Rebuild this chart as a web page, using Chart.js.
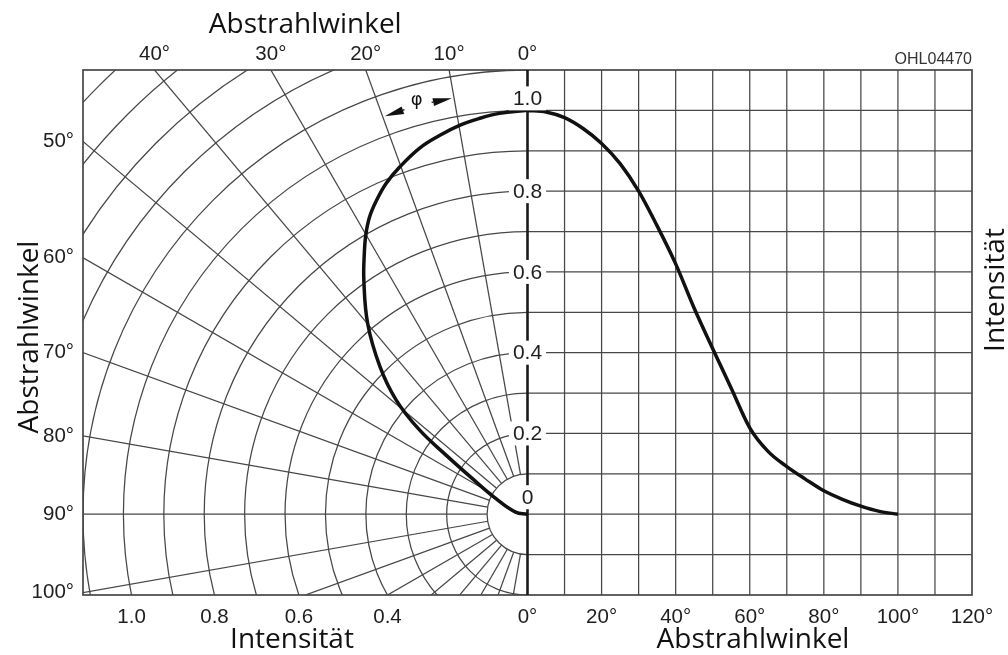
<!DOCTYPE html>
<html>
<head>
<meta charset="utf-8">
<title>Abstrahlcharakteristik</title>
<script src="https://cdn.jsdelivr.net/npm/chart.js@4.4.1/dist/chart.umd.min.js"></script>
<style>
  html, body { margin: 0; padding: 0; background: #fff; }
  #wrap { position: relative; width: 1008px; height: 655px; }
</style>
</head>
<body>
<div id="wrap"><canvas id="c"></canvas></div>
<script>
// Relative intensity over emission angle (Cartesian half, degrees)
const cartAngles    = [0, 5, 10, 15, 20, 25, 30, 35, 40, 45, 50, 55, 60, 65, 70, 75, 80, 85, 90, 95, 100];
const cartIntensity = [1.0, 0.996, 0.982, 0.955, 0.918, 0.868, 0.80, 0.714, 0.62, 0.51, 0.41, 0.312, 0.214, 0.155, 0.118, 0.087, 0.058, 0.037, 0.02, 0.007, 0.0];

// Same characteristic in the polar half (angle from the optical axis, relative intensity)
const polarAngles    = [0, 4, 7, 10, 13, 16.4, 20.2, 23.1, 25.7, 28, 30, 32, 35, 40, 45, 49, 52, 54, 57, 64, 80, 90];
const polarIntensity = [1.0, 0.995, 0.987, 0.977, 0.963, 0.945, 0.916, 0.891, 0.862, 0.833, 0.80, 0.762, 0.706, 0.615, 0.516, 0.43, 0.34, 0.25, 0.165, 0.085, 0.03, 0.0];

// Tick labels
const topAngleTicks        = [0, 10, 20, 30, 40];
const leftAngleTicks       = [50, 60, 70, 80, 90, 100];
const bottomIntensityTicks = [1.0, 0.8, 0.6, 0.4];
const bottomAngleTicks     = [0, 20, 40, 60, 80, 100, 120];
const axisIntensityLabels  = [1.0, 0.8, 0.6, 0.4, 0.2, 0];

// Axis ranges: the polar half uses intensity units, the Cartesian half degrees;
// both span the same pixels so one intensity unit equals 120/1.1 degrees.
const X_MAX = 1.1, Y_MIN = -0.2, Y_MAX = 1.1, ANG_MAX = 120;

const RAD = Math.PI / 180;
const tickFont  = { family: '"Liberation Sans", Arial, sans-serif', size: 20.5 };
const tickColor = '#1e1e1e';
const titleFont = '28px "Open Sans", "Noto Sans", sans-serif';
const GRID = '#474747';

const bottomLabels = [
  ...bottomIntensityTicks.map(r => r.toFixed(1)),
  ...bottomAngleTicks.map(a => a + '°')
];

const polarPoints = polarAngles.map((a, i) => ({
  x: -polarIntensity[i] * Math.sin(a * RAD),
  y:  polarIntensity[i] * Math.cos(a * RAD)
}));
const cartPoints = cartAngles.map((a, i) => ({ x: a, y: cartIntensity[i] }));

function line(ctx, x0, y0, x1, y1) {
  ctx.beginPath(); ctx.moveTo(x0, y0); ctx.lineTo(x1, y1); ctx.stroke();
}

// Polar and Cartesian grid behind the curves, labels and titles on top
const gridPlugin = {
  id: 'diagramGrid',
  beforeDatasetsDraw(chart) {
    const { ctx, chartArea: { left, right, top, bottom } } = chart;
    const xp = chart.scales.xp, xa = chart.scales.xa, yl = chart.scales.yLeft;
    const cx = xp.getPixelForValue(0), cy = yl.getPixelForValue(0);
    const P = (r, a) => [xp.getPixelForValue(-r * Math.sin(a * RAD)), yl.getPixelForValue(r * Math.cos(a * RAD))];

    ctx.save();
    ctx.beginPath(); ctx.rect(left, top, right - left, bottom - top); ctx.clip();
    ctx.strokeStyle = GRID; ctx.lineWidth = 1.25;

    // concentric intensity circles, left half only
    for (let k = 1; k <= 16; k++) {
      const r = k / 10;
      const rx = cx - xp.getPixelForValue(-r), ry = cy - yl.getPixelForValue(r);
      ctx.beginPath(); ctx.ellipse(cx, cy, rx, ry, 0, Math.PI / 2, Math.PI * 1.5); ctx.stroke();
    }
    // radial angle lines every 10 degrees, starting at the 0.1 circle
    for (let a = 10; a <= 170; a += 10) {
      const [x0, y0] = P(0.1, a), [x1, y1] = P(2.2, a);
      line(ctx, x0, y0, x1, y1);
    }
    // Cartesian half: verticals every 10 degrees, horizontals every 0.1
    for (let a = 10; a < ANG_MAX; a += 10) {
      const x = xa.getPixelForValue(a);
      line(ctx, x, top, x, bottom);
    }
    for (let k = -1; k <= 10; k++) {
      const y = yl.getPixelForValue(k / 10);
      line(ctx, cx, y, right, y);
    }
    ctx.restore();

    ctx.save();
    ctx.strokeStyle = GRID; ctx.lineWidth = 1.7;
    ctx.strokeRect(left, top, right - left, bottom - top);
    ctx.strokeStyle = '#1a1a1a'; ctx.lineWidth = 2.6;
    line(ctx, cx, top, cx, bottom);
    ctx.restore();
  },
  afterDatasetsDraw(chart) {
    const { ctx, chartArea: { left, right } } = chart;
    const xp = chart.scales.xp, yl = chart.scales.yLeft;
    const cx = xp.getPixelForValue(0);
    const P = (r, a) => [xp.getPixelForValue(-r * Math.sin(a * RAD)), yl.getPixelForValue(r * Math.cos(a * RAD))];

    ctx.save();
    // intensity labels on the optical axis
    ctx.font = '21px "Liberation Sans", Arial, sans-serif';
    ctx.textAlign = 'center'; ctx.textBaseline = 'middle';
    axisIntensityLabels.forEach(v => {
      const txt = v === 0 ? '0' : v.toFixed(1);
      let y = yl.getPixelForValue(v);
      if (v === 1) y -= 12;
      if (v === 0) y -= 17;
      const w = ctx.measureText(txt).width + 8;
      ctx.fillStyle = '#fff';
      ctx.fillRect(cx - w / 2, y - 12, w, 24);
      ctx.fillStyle = tickColor;
      ctx.fillText(txt, cx, y + 1);
    });

    // angle marker φ between the 10° and 20° rays
    const rA = 1.047;
    const arrow = (aFrom, aTip) => {
      const [x0, y0] = P(rA, aFrom), [x1, y1] = P(rA, aTip);
      const dx = x1 - x0, dy = y1 - y0, len = Math.hypot(dx, dy);
      const ux = dx / len, uy = dy / len;
      const hl = 19, hw = 4;
      ctx.strokeStyle = '#111'; ctx.lineWidth = 1.4;
      line(ctx, x0, y0, x1 - ux * hl, y1 - uy * hl);
      ctx.fillStyle = '#111';
      ctx.beginPath();
      ctx.moveTo(x1, y1);
      ctx.lineTo(x1 - ux * hl - uy * hw, y1 - uy * hl + ux * hw);
      ctx.lineTo(x1 - ux * hl + uy * hw, y1 - uy * hl - ux * hw);
      ctx.closePath(); ctx.fill();
    };
    arrow(16.9, 19.7);
    arrow(13.1, 10.3);
    const [fx, fy] = P(1.06, 15);
    ctx.font = '18px "DejaVu Sans", sans-serif';
    ctx.fillStyle = '#111';
    ctx.fillText('φ', fx, fy);

    // axis titles
    ctx.fillStyle = '#111';
    ctx.font = titleFont;
    ctx.textBaseline = 'alphabetic';
    ctx.textAlign = 'center';
    ctx.fillText('Abstrahlwinkel', (left + cx) / 2, 33);
    ctx.fillText('Intensität', 292, 648);
    ctx.fillText('Abstrahlwinkel', 753, 648);

    ctx.save();
    ctx.translate(38, 337); ctx.rotate(-Math.PI / 2);
    ctx.fillText('Abstrahlwinkel', 0, 0);
    ctx.restore();
    ctx.save();
    ctx.translate(1004, 290); ctx.rotate(-Math.PI / 2);
    ctx.fillText('Intensität', 0, 0);
    ctx.restore();

    // drawing code
    ctx.font = '16px "Liberation Sans", Arial, sans-serif';
    ctx.fillStyle = '#333';
    ctx.textAlign = 'right';
    ctx.fillText('OHL04470', right, 64);
    ctx.restore();
  }
};

const curveStyle = { borderColor: '#111', borderWidth: 3.5, pointRadius: 0, showLine: true, fill: false };

new Chart(document.getElementById('c'), {
  type: 'scatter',
  data: {
    datasets: [
      { label: 'polar', data: polarPoints, xAxisID: 'xp', yAxisID: 'yLeft', tension: 0.4, ...curveStyle },
      { label: 'kartesisch', data: cartPoints, xAxisID: 'xa', yAxisID: 'yLeft', cubicInterpolationMode: 'monotone', ...curveStyle }
    ]
  },
  options: {
    responsive: true,
    maintainAspectRatio: false,
    animation: false,
    events: [],
    layout: { padding: { right: 36 } },
    plugins: { legend: { display: false }, tooltip: { enabled: false }, title: { display: false } },
    scales: {
      xTop: {
        type: 'linear', position: 'top', min: -X_MAX, max: X_MAX,
        grid: { display: false, drawTicks: false }, border: { display: false },
        afterBuildTicks: s => { s.ticks = topAngleTicks.map(a => ({ value: -Y_MAX * Math.tan(a * RAD) })); },
        ticks: { autoSkip: false, maxRotation: 0, font: tickFont, color: tickColor, padding: 3,
                 callback: (v, i) => topAngleTicks[i] + '°' },
        afterFit: s => { s.height = 70; }
      },
      yLeft: {
        type: 'linear', position: 'left', min: Y_MIN, max: Y_MAX,
        grid: { display: false, drawTicks: false }, border: { display: false },
        afterBuildTicks: s => { s.ticks = leftAngleTicks.map(a => ({ value: X_MAX / Math.tan(a * RAD) })); },
        ticks: { autoSkip: false, font: tickFont, color: tickColor, padding: 9,
                 callback: (v, i) => leftAngleTicks[i] + '°' },
        afterFit: s => { s.width = 83; }
      },
      xp: {
        type: 'linear', position: 'bottom', min: -X_MAX, max: X_MAX,
        grid: { display: false, drawTicks: false }, border: { display: false },
        afterBuildTicks: s => {
          s.ticks = [
            ...bottomIntensityTicks.map(r => ({ value: -Math.sqrt(r * r - Y_MIN * Y_MIN) })),
            ...bottomAngleTicks.map(a => ({ value: a / ANG_MAX * X_MAX }))
          ];
        },
        ticks: { autoSkip: false, maxRotation: 0, font: tickFont, color: tickColor, padding: 10,
                 callback: (v, i) => bottomLabels[i] },
        afterFit: s => { s.height = 60; }
      },
      xa: { type: 'linear', display: false, min: -ANG_MAX, max: ANG_MAX }
    }
  },
  plugins: [gridPlugin]
});
</script>
</body>
</html>
